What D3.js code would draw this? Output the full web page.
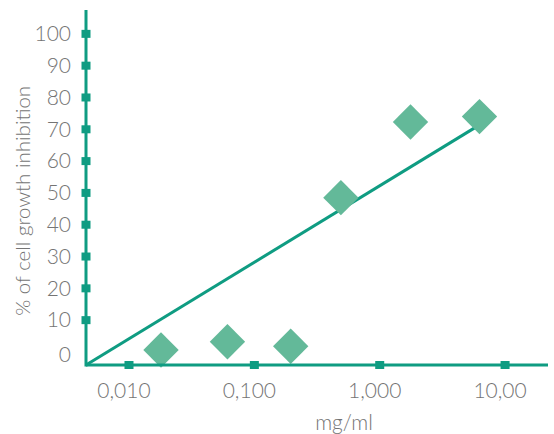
<!DOCTYPE html>
<html>
<head>
<meta charset="utf-8">
<script src="https://cdn.jsdelivr.net/npm/d3@7"></script>
<style>
  body { margin: 0; background: #fff; }
  text { font-family: Lato, "Open Sans", sans-serif; font-weight: 300; fill: #747474; }
</style>
</head>
<body>
<div id="vis"></div>
<script>
// values
const doses = [0.018, 0.061, 0.195, 0.49, 1.76, 6.25];          // mg/ml
const inhibition = [0.6, 3.2, 1.8, 48.5, 72.3, 74];               // %
const trendDoses = [0.00454, 5.8];
const trendValues = [-4.1, 70.6];
const xTicks = [0.01, 0.1, 1, 10];
const xTickLabels = ['0,010', '0,100', '1,000', '10,00'];
const yTicks = [0, 10, 20, 30, 40, 50, 60, 70, 80, 90, 100];

const W = 554, H = 434;
const margin = { top: 10, right: 6, bottom: 69, left: 86 };
const width = W - margin.left - margin.right;
const height = H - margin.top - margin.bottom;

const axisColor = '#0f9c82';
const markColor = '#63b999';

const svg = d3.select('#vis')
    .append('svg')
    .attr('width', W)
    .attr('height', H)
    .append('g')
    .attr('transform', `translate(${margin.left},${margin.top})`);

const x = d3.scaleLog()
    .domain([0.00454, 22])
    .range([0, width]);

const y = d3.scaleLinear()
    .domain([-4.1, 107.5])
    .range([height, 0]);

// trend line
const trend = trendDoses.map((d, i) => ({ x: d, y: trendValues[i] }));
svg.append('path')
    .datum(trend)
    .attr('fill', 'none')
    .attr('stroke', axisColor)
    .attr('stroke-width', 3)
    .attr('d', d3.line().x(d => x(d.x)).y(d => y(d.y)));

// diamonds
const side = 25;
svg.selectAll('.pt')
    .data(doses.map((d, i) => ({ x: d, y: inhibition[i] })))
    .join('rect')
    .attr('class', 'pt')
    .attr('x', -side / 2)
    .attr('y', -side / 2)
    .attr('width', side)
    .attr('height', side)
    .attr('fill', markColor)
    .attr('transform', d => `translate(${x(d.x)},${y(d.y)}) rotate(45)`);

// axes lines
svg.append('line')
    .attr('x1', 0).attr('x2', 0)
    .attr('y1', 0).attr('y2', height + 1.5)
    .attr('stroke', axisColor).attr('stroke-width', 3);
svg.append('line')
    .attr('x1', 0).attr('x2', width)
    .attr('y1', height).attr('y2', height)
    .attr('stroke', axisColor).attr('stroke-width', 3);

// y ticks (squares, none at 0)
svg.selectAll('.ytick')
    .data(yTicks.filter(t => t > 0))
    .join('rect')
    .attr('x', -4.5).attr('y', d => y(d) - 4)
    .attr('width', 9).attr('height', 8)
    .attr('fill', axisColor);

svg.selectAll('.ylab')
    .data(yTicks)
    .join('text')
    .attr('x', -15)
    .attr('y', d => y(d) + (d === 0 ? 3 : 0))
    .attr('dy', '0.35em')
    .attr('text-anchor', 'end')
    .attr('font-size', 21)
    .text(d => d);

// x ticks
svg.selectAll('.xtick')
    .data(xTicks)
    .join('rect')
    .attr('x', d => x(d) - 4.5).attr('y', height - 4)
    .attr('width', 9).attr('height', 8)
    .attr('fill', axisColor);

svg.selectAll('.xlab')
    .data(xTicks)
    .join('text')
    .attr('x', d => x(d) - 5)
    .attr('y', height + 33)
    .attr('text-anchor', 'middle')
    .attr('font-size', 21)
    .text((d, i) => xTickLabels[i]);

// axis titles
svg.append('text')
    .attr('transform', `translate(-56,${y(47.5)}) rotate(-90)`)
    .attr('text-anchor', 'middle')
    .attr('font-size', 20.5)
    .text('% of cell growth inhibition');

svg.append('text')
    .attr('x', 344 - margin.left)
    .attr('y', height + 65)
    .attr('text-anchor', 'middle')
    .attr('font-size', 21)
    .text('mg/ml');
</script>
</body>
</html>
